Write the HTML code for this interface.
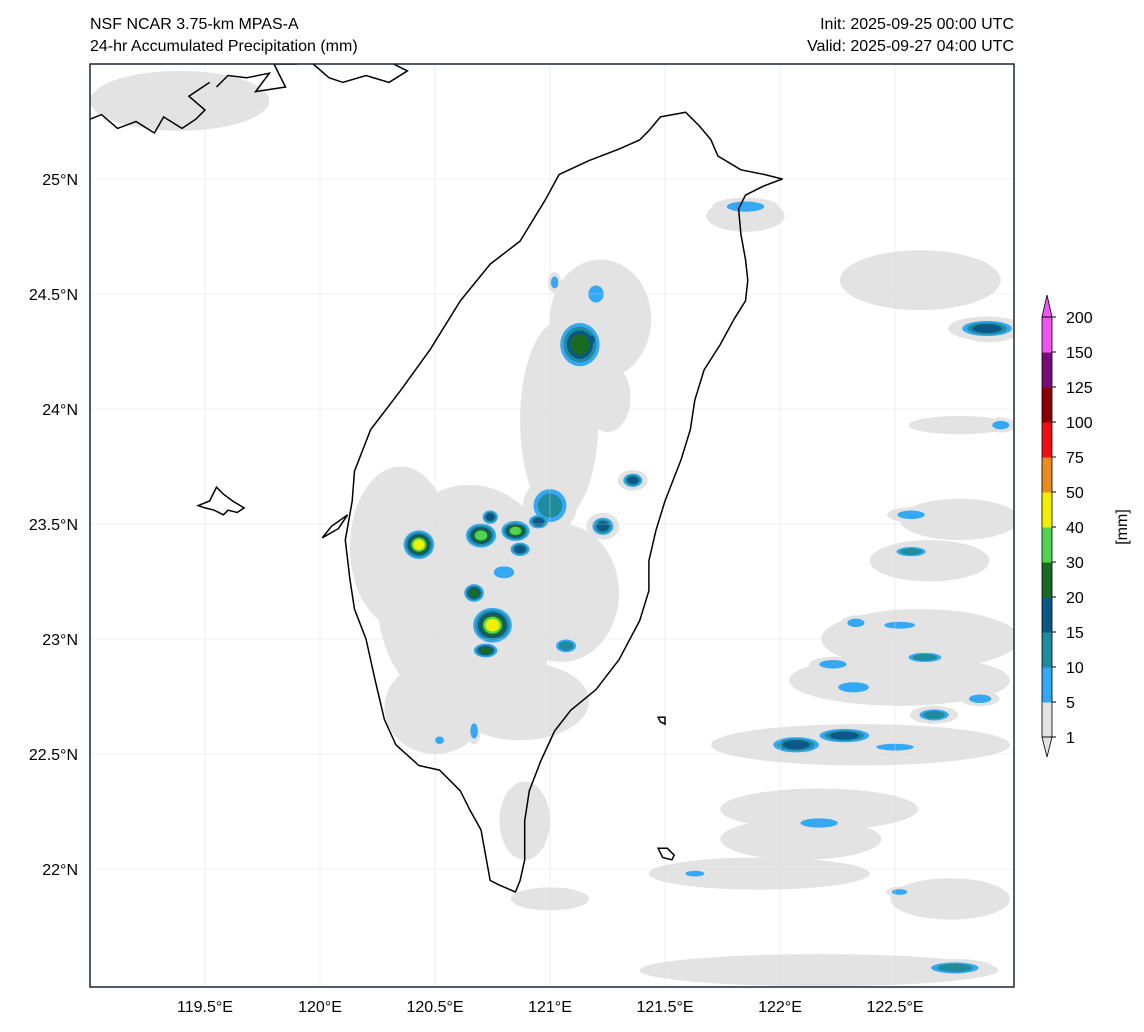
<!DOCTYPE html>
<html><head><meta charset="utf-8"><style>
html,body{margin:0;padding:0;background:#fff;}
svg{display:block;font-family:"Liberation Sans",sans-serif;}
</style></head><body>
<svg id="chart" width="1144" height="1032" viewBox="0 0 1144 1032">
<defs><clipPath id="mapclip"><rect x="90" y="64" width="924" height="923"/></clipPath></defs>
<text x="90" y="29" font-size="16">NSF NCAR 3.75-km MPAS-A</text>
<text x="90" y="51" font-size="16">24-hr Accumulated Precipitation (mm)</text>
<text x="1014" y="29" font-size="16" text-anchor="end">Init: 2025-09-25 00:00 UTC</text>
<text x="1014" y="51" font-size="16" text-anchor="end">Valid: 2025-09-27 04:00 UTC</text>
<g id="map" clip-path="url(#mapclip)"></g>
<rect x="90" y="64" width="924" height="923" fill="none" stroke="#1a2535" stroke-width="1.5"/>
<g id="axes"></g>
<g id="cbar"></g>
</svg>
<script>
const lonTicks=[119.5,120,120.5,121,121.5,122,122.5];
const lonLabels=["119.5°E","120°E","120.5°E","121°E","121.5°E","122°E","122.5°E"];
const latTicks=[22,22.5,23,23.5,24,24.5,25];
const latLabels=["22°N","22.5°N","23°N","23.5°N","24°N","24.5°N","25°N"];
const levelBounds=[1,5,10,15,20,30,40,50,75,100,125,150,200];
const levelColors=["#e3e3e3","#35a8f5","#1e8c9c","#0b5888","#1a6b22","#52d452","#f2f000","#e88c20","#ee1010","#8b0000","#7a0a7a","#ee55ee"];
// coastline lon/lat
const coastLon=[121.43,121.48,121.59,121.65,121.70,121.73,121.83,121.93,122.01,121.93,121.85,121.82,121.83,121.85,121.86,121.85,121.80,121.74,121.67,121.63,121.61,121.57,121.50,121.46,121.43,121.43,121.39,121.30,121.20,121.09,121.02,120.96,120.91,120.89,120.89,120.87,120.85,120.78,120.74,120.72,120.70,120.65,120.61,120.52,120.43,120.33,120.28,120.24,120.20,120.15,120.13,120.11,120.14,120.15,120.22,120.35,120.48,120.61,120.74,120.87,120.98,121.04,121.17,121.30,121.39];
const coastLat=[25.21,25.27,25.29,25.23,25.17,25.10,25.04,25.02,25.00,24.97,24.93,24.87,24.76,24.65,24.56,24.47,24.39,24.28,24.17,24.04,23.91,23.78,23.60,23.47,23.34,23.21,23.08,22.91,22.78,22.69,22.60,22.47,22.34,22.21,22.04,21.95,21.90,21.93,21.95,22.06,22.17,22.26,22.34,22.43,22.45,22.54,22.65,22.82,23.00,23.13,23.26,23.43,23.60,23.73,23.91,24.08,24.26,24.47,24.63,24.73,24.91,25.02,25.08,25.13,25.17];
// precipitation cells: center lon, lat, radius lon, radius lat, max level index
const cellLon=[119.39,120.65,120.50,121.04,121.22,120.87,120.89,121.0,122.61,122.78,122.65,122.61,122.52,122.35,122.17,122.09,121.91,122.17,122.78,121.85,122.91,122.74,120.35,121.05,121.25,
121.2,121.13,120.43,120.70,121.0,120.85,120.75,120.67,120.80,120.72,121.07,121.36,121.23,120.87,122.9,122.96,122.57,122.57,122.33,122.52,122.63,122.23,122.32,122.67,122.87,122.07,122.28,122.50,122.17,122.76,122.52,121.63,120.67,120.52,121.02,121.85,120.74,120.95,121.18];
const cellLat=[25.34,23.17,22.70,23.95,24.39,22.73,22.21,21.87,24.56,23.52,23.34,23.00,22.82,22.54,22.26,22.13,21.98,21.56,23.93,24.84,24.34,21.87,23.40,23.20,24.05,
24.50,24.28,23.41,23.45,23.58,23.47,23.06,23.20,23.29,22.95,22.97,23.69,23.49,23.39,24.35,23.93,23.54,23.38,23.07,23.06,22.92,22.89,22.79,22.67,22.74,22.54,22.58,22.53,22.20,21.57,21.90,21.98,22.60,22.56,24.55,24.88,23.53,23.51,24.30];
const cellRx=[0.39,0.40,0.22,0.17,0.22,0.30,0.11,0.17,0.35,0.26,0.26,0.43,0.48,0.65,0.43,0.35,0.48,0.78,0.22,0.17,0.13,0.26,0.22,0.25,0.10,
0.045,0.10,0.075,0.075,0.09,0.07,0.095,0.05,0.06,0.06,0.055,0.05,0.055,0.05,0.13,0.05,0.08,0.08,0.05,0.09,0.09,0.08,0.09,0.08,0.065,0.12,0.13,0.11,0.11,0.13,0.045,0.055,0.022,0.026,0.022,0.11,0.04,0.05,0.03];
const cellRy=[0.13,0.50,0.20,0.43,0.26,0.17,0.17,0.05,0.13,0.09,0.09,0.13,0.11,0.09,0.09,0.09,0.07,0.07,0.04,0.07,0.05,0.09,0.35,0.30,0.15,
0.05,0.11,0.07,0.06,0.09,0.05,0.085,0.045,0.035,0.035,0.035,0.035,0.045,0.035,0.04,0.025,0.025,0.025,0.025,0.02,0.025,0.025,0.03,0.03,0.025,0.04,0.035,0.02,0.027,0.03,0.017,0.017,0.045,0.022,0.035,0.03,0.035,0.035,0.04];
const cellLevel=[0,0,0,0,0,0,0,0,0,0,0,0,0,0,0,0,0,0,0,0,0,0,0,0,0,
1,4,6,5,2,5,6,4,1,4,2,3,3,3,3,1,1,2,1,1,2,1,1,2,1,3,3,1,1,2,1,1,1,1,1,1,3,3,3];
const chinaLon=[[119.0,119.05,119.12,119.2,119.28,119.32,119.4,119.46,119.5,119.43,119.52],[119.55,119.6,119.68,119.78,119.72,119.85,119.8,119.9],[119.97,120.04,120.1,120.2,120.3,120.38,120.32]];
const chinaLat=[[25.26,25.28,25.22,25.25,25.2,25.27,25.22,25.26,25.3,25.36,25.42],[25.4,25.45,25.44,25.46,25.38,25.4,25.5,25.5],[25.5,25.44,25.42,25.45,25.42,25.47,25.5]];
const islandLon=[[119.47,119.52,119.55,119.58,119.62,119.67,119.64,119.60,119.58,119.54,119.50,119.47],[121.47,121.51,121.54,121.53,121.49,121.47],[121.47,121.50,121.50,121.48,121.47],[120.01,120.05,120.12,120.08,120.01]];
const islandLat=[[23.58,23.60,23.66,23.63,23.60,23.57,23.55,23.56,23.54,23.56,23.57,23.58],[22.09,22.09,22.06,22.04,22.05,22.09],[22.66,22.66,22.63,22.64,22.66],[23.44,23.49,23.54,23.48,23.44]];

const NS="http://www.w3.org/2000/svg";
const X=lon=>90+(lon-119)*230, Y=lat=>64+(25.5-lat)*230;
function mk(tag,attrs,parent){const e=document.createElementNS(NS,tag);for(const k in attrs)e.setAttribute(k,attrs[k]);parent.appendChild(e);return e;}
const map=document.getElementById('map'),axes=document.getElementById('axes'),cbar=document.getElementById('cbar');
// precipitation
const order=cellLon.map((_,i)=>i).sort((a,b)=>cellLevel[a]-cellLevel[b]);
for(let pass=0;pass<levelColors.length;pass++){
 order.forEach(i=>{const L=cellLevel[i];if(pass>L)return;
  const f=L===0?1:(1+0.35*(L-pass))/(1+0.35*L)*(pass===0?1.3:1);
  const e=mk('ellipse',{cx:X(cellLon[i]),cy:Y(cellLat[i]),rx:cellRx[i]*230*f,ry:cellRy[i]*230*f,fill:levelColors[pass]},map);
  
  });
}
// gridlines
lonTicks.forEach((v,i)=>{const l=mk('line',{x1:X(v),x2:X(v),y1:64,y2:987,stroke:'#d8d8d8','stroke-width':0.6,'stroke-opacity':0.7},map);


const t=mk('text',{x:X(v),y:1012,'font-size':16,'text-anchor':'middle'},axes);t.textContent=lonLabels[i];

});
latTicks.forEach((v,i)=>{const l=mk('line',{x1:90,x2:1014,y1:Y(v),y2:Y(v),stroke:'#d8d8d8','stroke-width':0.6,'stroke-opacity':0.7},map);


const t=mk('text',{x:78,y:Y(v)+6,'font-size':16,'text-anchor':'end'},axes);t.textContent=latLabels[i];

});
// coastline
const cp=coastLon.map((v,i)=>X(v)+','+Y(coastLat[i])).join(' ');
const coast=mk('polygon',{points:cp,fill:'none',stroke:'#000','stroke-width':1.5,'stroke-linejoin':'round'},map);


chinaLon.forEach((arr,j)=>{const p=mk('polyline',{points:arr.map((v,i)=>X(v)+','+Y(chinaLat[j][i])).join(' '),fill:'none',stroke:'#000','stroke-width':1.5},map);

});
islandLon.forEach((arr,j)=>{const p=mk('polygon',{points:arr.map((v,i)=>X(v)+','+Y(islandLat[j][i])).join(' '),fill:'none',stroke:'#000','stroke-width':1.5},map);

});
// colorbar
const cbTop=317,cbBot=737,seg=(cbBot-cbTop)/levelColors.length,cbx=1042,cbw=10;
levelColors.forEach((c,i)=>{const r=mk('rect',{x:cbx,y:cbBot-seg*(i+1),width:cbw,height:seg+0.5,fill:c},cbar);

});
const t1=mk('polygon',{points:`${cbx},${cbBot} ${cbx+cbw},${cbBot} ${cbx+cbw/2},${cbBot+20}`,fill:levelColors[0],stroke:'#000','stroke-width':0.8},cbar);


const t2=mk('polygon',{points:`${cbx},${cbTop} ${cbx+cbw},${cbTop} ${cbx+cbw/2},${cbTop-22}`,fill:levelColors[levelColors.length-1],stroke:'#000','stroke-width':0.8},cbar);


const fr=mk('rect',{x:cbx,y:cbTop,width:cbw,height:cbBot-cbTop,fill:'none',stroke:'#000','stroke-width':0.8},cbar);


levelBounds.forEach((v,i)=>{const y=cbBot-seg*i;mk('line',{x1:cbx+cbw,x2:cbx+cbw+4,y1:y,y2:y,stroke:'#000'},cbar);
const t=mk('text',{x:1066,y:y+6,'font-size':16},cbar);t.textContent=v;

});
const u=mk('text',{x:1127,y:527,'font-size':16,'text-anchor':'middle',transform:'rotate(-90 1127 527)'},cbar);u.textContent='[mm]';


</script>
</body></html>
